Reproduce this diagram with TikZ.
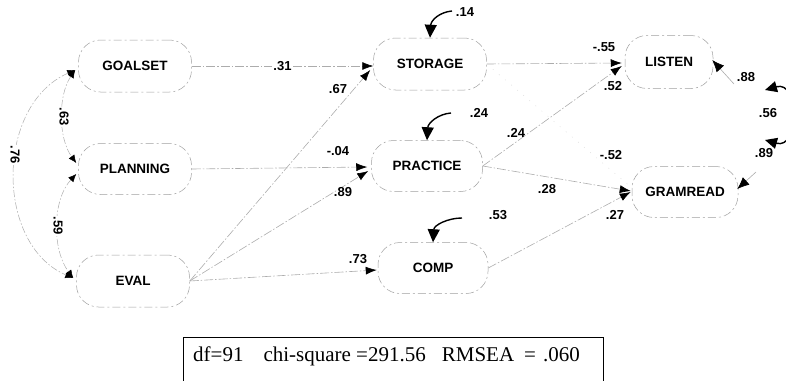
\documentclass[tikz,border=0pt]{standalone}
\usepackage{fontspec}
\setmainfont{Liberation Serif}
\setsansfont{Liberation Sans}
\usetikzlibrary{arrows.meta,calc}
\begin{document}
\begin{tikzpicture}[x=1pt,y=-1pt,
  var/.style={draw=gray!75, line width=0.5pt,
    dash pattern=on 8pt off 3pt on 2pt off 3pt,
    rounded corners=22pt, minimum width=113pt, minimum height=52pt,
    inner sep=0pt, font=\sffamily\bfseries\fontsize{13.5}{14}\selectfont},
  link/.style={draw=gray!65, line width=0.6pt,
    dash pattern=on 9pt off 2pt on 1.5pt off 2pt,
    -{Latex[length=11pt,width=8pt,color=black]}},
  faint/.style={draw=gray!22, line width=0.6pt, dash pattern=on 1pt off 7pt},
  cov/.style={draw=gray!65, line width=0.5pt,
    dash pattern=on 7pt off 2pt on 1.5pt off 2pt,
    {Latex[length=8pt,width=7pt,color=black]}-{Latex[length=8pt,width=7pt,color=black]}},
  err/.style={draw=black, line width=1.4pt, -{Triangle[length=13pt,width=12pt]}},
  resid/.style={draw=gray!65, line width=0.6pt, -{Latex[length=12pt,width=10pt,color=black]}},
  twohead/.style={draw=black, line width=1.4pt,
    {Triangle[length=12pt,width=11pt]}-{Triangle[length=12pt,width=11pt]}},
  coef/.style={font=\sffamily\bfseries\fontsize{13}{13}\selectfont, inner sep=1pt},
]
\useasboundingbox (0,0) rectangle (786,380);
\clip (0,0) rectangle (786,380);

% latent and observed variables
\node[var] (goal) at (135,66) {GOALSET};
\node[var, minimum height=51pt] (plan) at (135,169) {PLANNING};
\node[var] (eval) at (133,281) {EVAL};
\node[var] (stor) at (430,64) {STORAGE};
\node[var, minimum width=111pt, minimum height=51pt] (prac) at (427,166) {PRACTICE};
\node[var, minimum width=110pt, minimum height=51pt] (comp) at (433,268) {COMP};
\node[var, minimum width=88pt, minimum height=53pt] (list) at (669,62) {LISTEN};
\node[var, minimum width=106pt, minimum height=51pt] (gram) at (685,192) {GRAMREAD};

% structural paths
\draw[link] (goal.east) -- ($(stor.west)+(0,2)$)
  node[coef, fill=white, pos=0.5] (p31) {.31};
\draw[link] (eval.east) -- ($(stor.west)+(-3,6)$);
\node[coef] (p67) at (338,89) {.67};
\draw[link] (plan.east) -- ($(prac.west)+(-4,1)$);
\node[coef] (p04) at (338,151) {-.04};
\draw[link] (eval.east) -- ($(prac.west)+(-3,5)$);
\node[coef] (p89) at (343,192) {.89};
\draw[link] (eval.east) -- ($(comp.west)+(-1,2)$);
\node[coef] (p73) at (358,259) {.73};
\draw[link] (stor.east) -- ($(list.west)+(-3,1)$);
\node[coef] (p55) at (604,47) {-.55};
\draw[link] (prac.east) -- ($(list.west)+(-3,4)$);
\node[coef] (p24b) at (516,133) {.24};
\node[coef] (p52) at (613,86) {.52};
\draw[faint] (stor.east) -- ($(gram.west)+(-1,-5)$);
\node[coef] (p52b) at (611,155) {-.52};
\draw[link] (prac.east) -- ($(gram.west)+(-1,-1)$);
\node[coef] (p28) at (547,189) {.28};
\draw[link] (comp.east) -- ($(gram.west)+(-1,0)$);
\node[coef] (p27) at (615,215) {.27};

% correlations among the exogenous variables
\draw[cov] ($(goal.west)+(-3,4)$) .. controls (58,95) and (58,138) .. ($(plan.west)+(-2,-6)$);
\node[coef, fill=white, rotate=-90] (c63) at (64,117) {.63};
\draw[cov] ($(plan.west)+(-2,5)$) .. controls (52,200) and (52,250) .. ($(eval.west)+(-3,-3)$);
\node[coef, fill=white, rotate=-90] (c59) at (58,226) {.59};
\draw[cov] ($(goal.west)+(-3,4)$) .. controls (-5,105) and (-5,245) .. ($(eval.west)+(-3,-3)$);
\node[coef, fill=white, rotate=-90] (c76) at (15,155) {.76};

% residual terms
\coordinate (e1) at (452,11);
\draw[err] (e1) .. controls (440,12) and (431,20) .. (stor.north);
\node[coef] (r14) at (465,12) {.14};
\coordinate (e2) at (451,113);
\draw[err] (e2) .. controls (438,114) and (428,123) .. (prac.north);
\node[coef] (r24) at (479,113) {.24};
\coordinate (e3) at (462,218);
\draw[err] (e3) .. controls (448,218) and (434,225) .. (comp.north);
\node[coef] (r53) at (498,215) {.53};

\coordinate (e4) at (734,84);
\draw[resid] (e4) -- ($(list.east)+(-1,-2)$);
\node[coef] (r88) at (746,77) {.88};
\coordinate (e5) at (756,172);
\draw[resid] (e5) -- ($(gram.east)+(-1,-3)$);
\node[coef] (r89) at (764,153) {.89};

\coordinate (c1) at (765,90);
\coordinate (c2) at (765,140);
\draw[twohead] (c1) .. controls (800,80) and (800,150) .. (c2);
\node[coef] (r56) at (768,113) {.56};

% fit indices
\node[draw, line width=0.6pt, minimum width=420pt, minimum height=55pt,
  anchor=north west, inner sep=0pt] (stats) at (183,337) {};
\node[anchor=base west, inner sep=0pt, font=\fontsize{21}{21}\selectfont] (fit) at (193,361)
  {df=91\hspace{20pt}chi-square =291.56\hspace{16pt}RMSEA\hspace{10pt}=\hspace{7pt}.060};
\end{tikzpicture}
\end{document}
